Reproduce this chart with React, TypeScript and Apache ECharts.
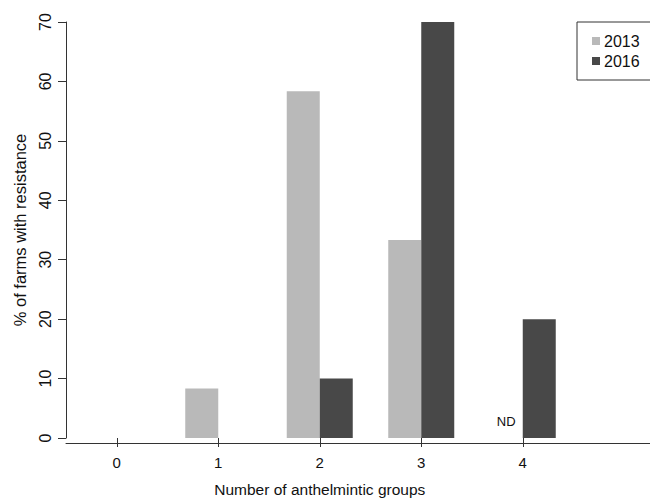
import React, { useEffect, useRef } from "react";
import * as echarts from "echarts";

const categories = ["0", "1", "2", "3", "4"];
const values2013 = [0, 8.33, 58.33, 33.33, 0];
const values2016 = [0, 0, 10, 70, 20];
const notes2013 = ["", "", "", "", "ND"];
const yTicks = [0, 10, 20, 30, 40, 50, 60, 70];

const FONT = "'Liberation Sans', Arial, Helvetica, sans-serif";
const AXIS = "#333333";
const TEXT = "#111111";

export default function App() {
  const ref = useRef<HTMLDivElement>(null);
  useEffect(() => {
    if (!ref.current) return;
    const chart = echarts.init(ref.current, null, { renderer: "svg" });
    chart.setOption({
      animation: false,
      backgroundColor: "#ffffff",
      textStyle: { fontFamily: FONT },
      legend: {
        orient: "vertical",
        left: 577,
        top: 22,
        borderColor: AXIS,
        borderWidth: 1,
        borderRadius: 0,
        padding: [11, 30, 11, 15],
        itemGap: 4,
        itemWidth: 8,
        itemHeight: 8,
        icon: "rect",
        textStyle: { fontSize: 16, color: TEXT, fontFamily: FONT, padding: [0, 0, 0, -1] },
        data: ["2013", "2016"],
      },
      grid: [
        { left: 66, top: 22, bottom: 59, right: 76.5, containLabel: false },
        { left: 66, top: 22, bottom: 59, right: 0, containLabel: false },
      ],
      xAxis: [
        {
          type: "category",
          gridIndex: 0,
          data: categories,
          boundaryGap: true,
          axisLine: { show: false },
          axisTick: { show: true, alignWithLabel: true, length: 9, lineStyle: { color: AXIS, width: 1 } },
          axisLabel: { fontSize: 15, color: TEXT, margin: 17, fontFamily: FONT },
          name: "Number of anthelmintic groups",
          nameLocation: "middle",
          nameGap: 43,
          nameTextStyle: { fontSize: 15.5, color: TEXT, fontFamily: FONT },
          splitLine: { show: false },
        },
        {
          type: "value",
          gridIndex: 1,
          min: 0,
          max: 1,
          axisLine: { show: true, lineStyle: { color: AXIS, width: 1 } },
          axisTick: { show: false },
          axisLabel: { show: false },
          splitLine: { show: false },
        },
      ],
      yAxis: [
        {
          type: "value",
          gridIndex: 0,
          min: yTicks[0],
          max: yTicks[yTicks.length - 1],
          interval: 10,
          axisLine: { show: true, lineStyle: { color: AXIS, width: 1 } },
          axisTick: { show: true, length: 8, lineStyle: { color: AXIS, width: 1 } },
          axisLabel: { fontSize: 16, color: TEXT, rotate: 90, margin: 13, fontFamily: FONT },
          splitLine: { show: false },
          name: "% of farms with resistance",
          nameLocation: "middle",
          nameGap: 38,
          nameRotate: 90,
          nameTextStyle: { fontSize: 16.5, color: TEXT, fontFamily: FONT },
        },
        {
          type: "value",
          gridIndex: 1,
          show: false,
          min: 0,
          max: 1,
        },
      ],
      series: [
        {
          name: "2013",
          type: "bar",
          xAxisIndex: 0,
          yAxisIndex: 0,
          barWidth: 33,
          barGap: "0%",
          itemStyle: { color: "#b9b9b9" },
          data: values2013.map((v, i) =>
            notes2013[i]
              ? {
                  value: v,
                  label: {
                    show: true,
                    position: "top",
                    distance: 10,
                    formatter: notes2013[i],
                    fontSize: 13,
                    color: TEXT,
                    fontFamily: FONT,
                  },
                }
              : v
          ),
        },
        {
          name: "2016",
          type: "bar",
          xAxisIndex: 0,
          yAxisIndex: 0,
          barWidth: 33,
          barGap: "0%",
          itemStyle: { color: "#484848" },
          data: values2016,
        },
      ],
    });
    return () => chart.dispose();
  }, []);
  return <div ref={ref} style={{ width: 650, height: 502, position: "absolute", left: 0, top: 0 }} />;
}
